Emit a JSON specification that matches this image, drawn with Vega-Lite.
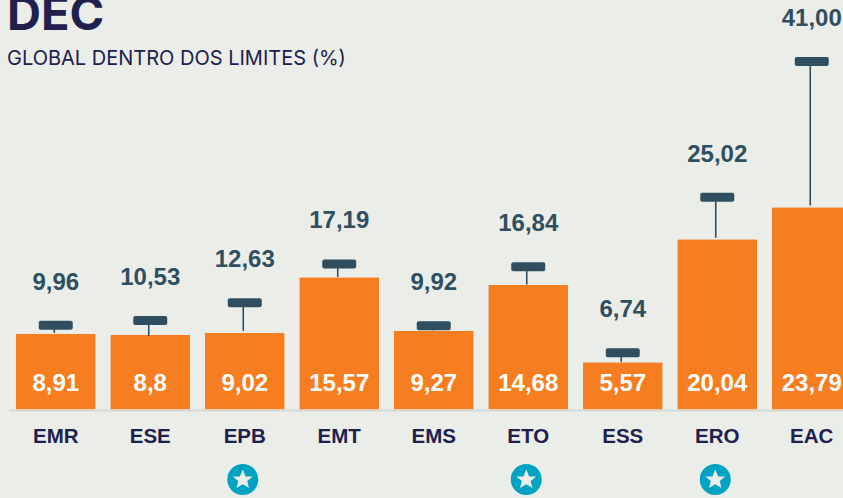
{"$schema":"https://vega.github.io/schema/vega-lite/v6.json","width":843,"height":498,"padding":0,"autosize":"none","background":"#ebeee8","view":{"stroke":null,"fill":null},
"title":{"text":"DEC","subtitle":"GLOBAL DENTRO DOS LIMITES (%)","anchor":"start","frame":"group","offset":-70,"dx":7,"font":"Inter","fontSize":47,"fontWeight":700,"color":"#20204f","subtitleFont":"Inter","subtitleFontSize":20,"subtitleFontWeight":400,"subtitleColor":"#20204f","subtitlePadding":9},
"data":{"values":[
{"sigla":"EMR","dentro":8.91,"limite":9.96,"base":9.0,"selo":false,"txtDentro":"8,91","txtLimite":"9,96"},
{"sigla":"ESE","dentro":8.8,"limite":10.53,"base":8.65,"selo":false,"txtDentro":"8,8","txtLimite":"10,53"},
{"sigla":"EPB","dentro":9.02,"limite":12.63,"base":9.25,"selo":true,"txtDentro":"9,02","txtLimite":"12,63"},
{"sigla":"EMT","dentro":15.57,"limite":17.19,"base":15.6,"selo":false,"txtDentro":"15,57","txtLimite":"17,19"},
{"sigla":"EMS","dentro":9.27,"limite":9.92,"base":9.3,"selo":false,"txtDentro":"9,27","txtLimite":"9,92"},
{"sigla":"ETO","dentro":14.68,"limite":16.84,"base":14.7,"selo":true,"txtDentro":"14,68","txtLimite":"16,84"},
{"sigla":"ESS","dentro":5.57,"limite":6.74,"base":5.6,"selo":false,"txtDentro":"5,57","txtLimite":"6,74"},
{"sigla":"ERO","dentro":20.04,"limite":25.02,"base":20.2,"selo":true,"txtDentro":"20,04","txtLimite":"25,02"},
{"sigla":"EAC","dentro":23.79,"limite":41.0,"base":24.0,"selo":false,"txtDentro":"23,79","txtLimite":"41,00"}]},
"encoding":{"x":{"field":"sigla","type":"nominal","sort":null,"scale":{"type":"band","range":[8.5,859],"paddingInner":0,"paddingOuter":0},
"axis":{"title":null,"orient":"bottom","offset":-88,"labelAngle":0,"ticks":false,"labelPadding":16,"labelFont":"Liberation Sans","labelFontWeight":700,"labelFontSize":20.5,"labelColor":"#20204f","domainColor":"#d6d8d4","domainWidth":2,"grid":false}}},
"layer":[
{"mark":{"type":"bar","size":80,"color":"#f67e20","cornerRadius":1},"encoding":{"y":{"field":"dentro","type":"quantitative","scale":{"domain":[0,48.235],"range":[409.5,-0.5],"nice":false,"zero":false},"axis":null}}},
{"mark":{"type":"rule","color":"#2f4f61","strokeWidth":1.6,"xOffset":-1.5},"encoding":{"y":{"field":"base","type":"quantitative"},"y2":{"field":"limite"}}},
{"mark":{"type":"tick","color":"#2f4f61","opacity":1,"size":34,"thickness":9,"cornerRadius":2,"yOffset":0.5},"encoding":{"y":{"field":"limite","type":"quantitative"}}},
{"mark":{"type":"text","font":"Liberation Sans","fontWeight":700,"fontSize":24,"color":"#2f4f61","dy":-42,"baseline":"middle"},"encoding":{"y":{"field":"limite","type":"quantitative"},"text":{"field":"txtLimite","type":"nominal"}}},
{"mark":{"type":"text","font":"Liberation Sans","fontWeight":700,"fontSize":24,"color":"#ffffff","dy":-26,"baseline":"middle"},"encoding":{"y":{"datum":0,"type":"quantitative"},"text":{"field":"txtDentro","type":"nominal"}}},
{"transform":[{"filter":"datum.selo"}],"mark":{"type":"point","shape":"circle","filled":true,"opacity":1,"color":"#00a3c4","size":960,"xOffset":-2},"encoding":{"y":{"datum":-8.24,"type":"quantitative"}}},
{"transform":[{"filter":"datum.selo"}],"mark":{"type":"point","shape":"M0,-1L0.29,-0.31L1,-0.31L0.45,0.14L0.62,0.85L0,0.47L-0.62,0.85L-0.45,0.14L-1,-0.31L-0.29,-0.31Z","filled":true,"opacity":1,"color":"#ebeee8","size":400,"xOffset":-2},"encoding":{"y":{"datum":-8.24,"type":"quantitative"}}}
]}
